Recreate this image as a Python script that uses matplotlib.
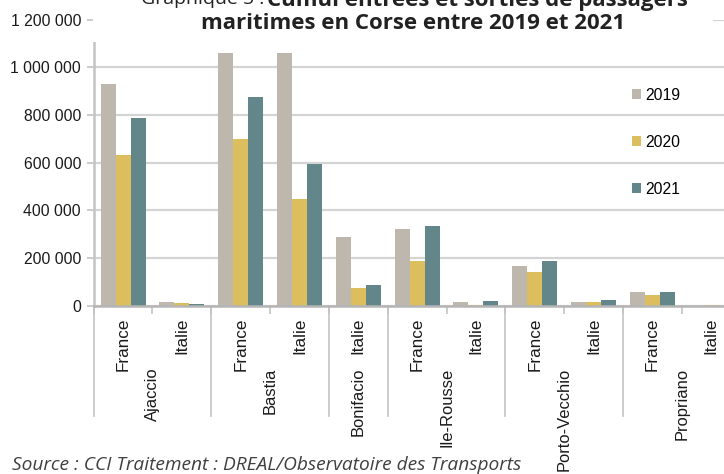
import matplotlib.pyplot as plt
from matplotlib.patches import Rectangle
from matplotlib.transforms import blended_transform_factory
import numpy as np

# passagers maritimes (entrées + sorties) par port et par provenance
ports = ["Ajaccio", "Ajaccio", "Bastia", "Bastia", "Bonifacio",
         "Ile-Rousse", "Ile-Rousse", "Porto-Vecchio", "Porto-Vecchio",
         "Propriano", "Propriano"]
pays = ["France", "Italie", "France", "Italie", "Italie",
        "France", "Italie", "France", "Italie", "France", "Italie"]
v2019 = [930000, 17000, 1060000, 1060000, 288000, 323000, 16000, 167000, 16000, 58000, 0]
v2020 = [632000, 13000, 699000, 448000, 75000, 188000, 4000, 142000, 16000, 45000, 3000]
v2021 = [787000, 7000, 875000, 594000, 88000, 335000, 20000, 188000, 24000, 58000, 0]
annees = ["2019", "2020", "2021"]
couleurs = ["#beb7ae", "#dcbe5e", "#63868a"]

W, H = 724, 474
fig = plt.figure(figsize=(W / 100, H / 100), dpi=100)
ax = fig.add_axes([93.6 / W, 1 - 305.7 / H, 647 / W, 286.1 / H])

x = np.arange(len(pays))
bw = 0.255
for i, (vals, lab, c) in enumerate(zip([v2019, v2020, v2021], annees, couleurs)):
    ax.bar(x + (i - 1) * bw, vals, width=bw, color=c, label=lab, zorder=3)

ax.set_xlim(-0.5, len(pays) - 0.5)
ax.set_ylim(0, 1200000)
yt = np.arange(0, 1200001, 200000)
ax.set_yticks(yt)
ax.set_yticklabels([f"{v:,}".replace(",", " ") for v in yt])
ax.yaxis.grid(True, color="#d4d4d4", linewidth=1.6, zorder=0)
ax.set_axisbelow(True)

for s in ["top", "right"]:
    ax.spines[s].set_visible(False)
ax.spines["left"].set_color("#c4c4c4")
ax.spines["left"].set_linewidth(1.8)
ax.spines["bottom"].set_color("#b5b5b5")
ax.spines["bottom"].set_linewidth(1.8)
ax.spines["bottom"].set_zorder(4)

ax.tick_params(axis="y", length=5, width=1.2, color="#c4c4c4", pad=4,
               labelsize=11.3, labelcolor="#1a1a1a")
ax.set_xticks(np.arange(-0.5, len(pays), 1.0))
ax.set_xticklabels([])
ax.tick_params(axis="x", length=6, width=1.2, color="#c4c4c4")

trans = blended_transform_factory(ax.transData, ax.transAxes)
for xi, p in zip(x, pays):
    ax.text(xi, -0.042, p, rotation=90, ha="center", va="top", transform=trans,
            fontsize=12.3, color="#1a1a1a", family="Liberation Sans")

# séparateurs et noms de ports
bornes = [-0.5]
for i in range(1, len(ports)):
    if ports[i] != ports[i - 1]:
        bornes.append(i - 0.5)
bornes.append(len(ports) - 0.5)
for b in bornes:
    ax.plot([b, b], [0, -0.385], transform=trans, color="#c4c4c4", lw=1.2, clip_on=False)
for a, b in zip(bornes[:-1], bornes[1:]):
    ax.text((a + b) / 2, -0.216, ports[int(a + 0.5)], rotation=90, ha="center", va="top",
            transform=trans, fontsize=11.9, color="#1a1a1a", family="Liberation Sans")

for t in ax.get_yticklabels():
    t.set_family("Liberation Sans")

leg = ax.legend(loc="upper left", bbox_to_anchor=(624.0 / W, 1 - 80.0 / H),
                bbox_transform=fig.transFigure, frameon=False, borderpad=0,
                handlelength=0.58, handleheight=0.58, handletextpad=0.3,
                labelspacing=2.04, prop={"family": "Liberation Sans", "size": 11.3})

# titre sur fond blanc
fig.patches.append(Rectangle((92.5 / W, 1 - 42 / H), 620 / W, 42 / H,
                             transform=fig.transFigure, facecolor="white",
                             edgecolor="none", zorder=1))
fig.text(413 / W, 1 - 29.3 / H, "maritimes en Corse entre 2019 et 2021",
         ha="center", va="baseline", fontsize=16, fontweight="bold",
         family="Open Sans", color="#222222", zorder=5)
fig.text(267 / W, 1 - 6 / H, "Cumul entrées et sorties de passagers",
         ha="left", va="baseline", fontsize=16, fontweight="bold",
         family="Open Sans", color="#222222", zorder=5)
fig.text(264 / W, 1 - 4 / H, "Graphique 5 :", ha="right", va="baseline",
         fontsize=14, family="Open Sans", color="#222222", zorder=5)

fig.text(12 / W, 1 - 470 / H, "Source : CCI Traitement : DREAL/Observatoire des Transports",
         ha="left", va="baseline", fontsize=13.8, style="italic",
         family="Open Sans", color="#404040")

fig.savefig("out.png", dpi=100)
